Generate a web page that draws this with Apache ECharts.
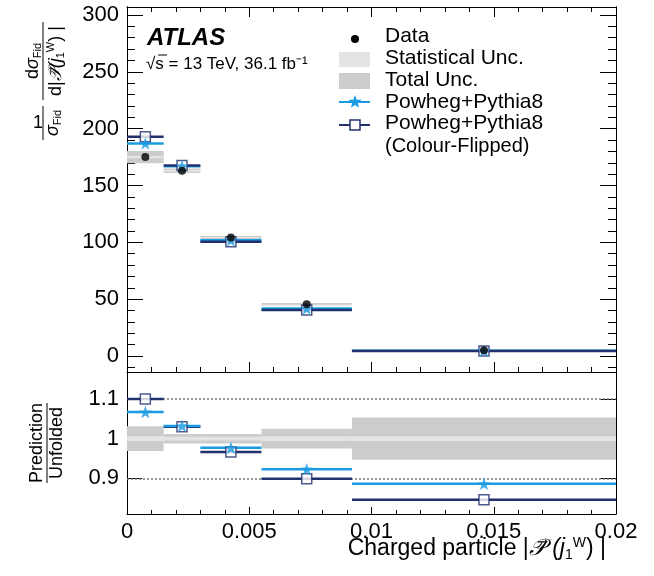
<!DOCTYPE html>
<html>
<head>
<meta charset="utf-8">
<script src="https://cdn.jsdelivr.net/npm/echarts@6/dist/echarts.min.js"></script>
<style>
  html, body { margin: 0; padding: 0; background: #fff; }
  #chart { width: 654px; height: 576px; }
</style>
</head>
<body>
<div id="chart"></div>
<script>
// bins of |P(j1W)|
const binLo = [0, 0.0015, 0.003, 0.0055, 0.0092];
const binHi = [0.0015, 0.003, 0.0055, 0.0092, 0.02];

// upper panel: normalised cross-section
const dataVals = [175, 163, 104.3, 45.6, 5.2];
const powhegVals = [187, 167, 101.8, 41.8, 4.6];
const flippedVals = [193, 167.5, 100.5, 40.6, 4.4];

// lower panel: prediction / unfolded
const powhegRatio = [1.067, 1.032, 0.977, 0.923, 0.886];
const flippedRatio = [1.100, 1.030, 0.966, 0.899, 0.846];

// relative uncertainties (half width)
const totUnc = [0.031, 0.012, 0.012, 0.025, 0.053];
const statUnc = [0.006, 0.005, 0.005, 0.006, 0.006];

// axis ticks
const xTicks = [0, 0.005, 0.01, 0.015, 0.02];
const yTicksTop = [0, 50, 100, 150, 200, 250, 300];
const yTicksRatio = [0.9, 1, 1.1];
const ratioGuides = [0.9, 1.1];

const FONT = 'Liberation Sans, Arial, Helvetica, sans-serif';
const BLUE = '#1a9be2';
const NAVY = '#22306e';
const STAR = 'path://M0,-10L2.35,-3.24L9.51,-3.09L3.8,1.24L5.88,8.09L0,4L-5.88,8.09L-3.8,1.24L-9.51,-3.09L-2.35,-3.24Z';

const mids = binLo.map((lo, i) => (lo + binHi[i]) / 2);
const yMinorTop = [];
for (let v = -10; v <= 300; v += 10) if (v % 50 !== 0) yMinorTop.push(v);

function rectItem(color) {
  return function (params, api) {
    const a = api.coord([api.value(0), api.value(3)]);
    const b = api.coord([api.value(1), api.value(2)]);
    return { type: 'rect', shape: { x: a[0], y: a[1], width: b[0] - a[0], height: b[1] - a[1] }, style: { fill: color } };
  };
}
function segItem(color) {
  return function (params, api) {
    const a = api.coord([api.value(0), api.value(2)]);
    const b = api.coord([api.value(1), api.value(2)]);
    return { type: 'line', shape: { x1: a[0], y1: a[1], x2: b[0], y2: b[1] }, style: { stroke: color, lineWidth: 2.5 } };
  };
}
function bands(center, unc) {
  return binLo.map((lo, i) => [lo, binHi[i], center[i] * (1 - unc[i]), center[i] * (1 + unc[i])]);
}
function segs(vals) {
  return binLo.map((lo, i) => [lo, binHi[i], vals[i]]);
}
function pts(vals) {
  return mids.map((m, i) => [m, vals[i]]);
}

function xAx(gridIndex, position, showLabel, major, minor) {
  return {
    type: 'value', gridIndex, position, min: 0, max: 0.02, interval: 0.005,
    axisLine: { show: true, onZero: false, lineStyle: { color: '#000', width: 1 } },
    axisTick: { show: true, inside: true, length: major, lineStyle: { color: '#000' } },
    minorTick: { show: true, splitNumber: 5, length: minor, lineStyle: { color: '#000' } },
    splitLine: { show: false },
    axisLabel: {
      show: showLabel, color: '#000', fontFamily: FONT, fontSize: 22, margin: 7,
      formatter: v => String(+v.toFixed(3))
    }
  };
}
function yAx(gridIndex, position, min, max, vals, len, showLabel) {
  return {
    type: 'value', gridIndex, position, min, max,
    axisLine: { show: true, onZero: false, lineStyle: { color: '#000', width: 1 } },
    axisTick: { show: true, inside: true, length: len, customValues: vals, lineStyle: { color: '#000' } },
    splitLine: { show: false },
    axisLabel: { show: showLabel, customValues: vals, color: '#000', fontFamily: FONT, fontSize: 22, margin: 8 }
  };
}

function starPoints(cx, cy, R, r) {
  const p = [];
  for (let k = 0; k < 10; k++) {
    const ang = -Math.PI / 2 + k * Math.PI / 5;
    const rad = k % 2 === 0 ? R : r;
    p.push([cx + rad * Math.cos(ang), cy + rad * Math.sin(ang)]);
  }
  return p;
}

function txt(x, y, text, size, extra) {
  return Object.assign({
    type: 'text', x, y,
    style: Object.assign({ text, fontFamily: FONT, fontSize: size, fill: '#000', verticalAlign: 'middle' }, extra || {})
  });
}

const subRich = {
  n: { fontFamily: FONT, fontSize: 18, fill: '#000' },
  s: { fontFamily: FONT, fontSize: 11, fill: '#000', padding: [10, 0, 0, 0] },
  i: { fontFamily: FONT, fontSize: 18, fontStyle: 'italic', fill: '#000' },
  sup: { fontFamily: FONT, fontSize: 11, fill: '#000', padding: [0, 0, 10, 0] }
};

const chart = echarts.init(document.getElementById('chart'));
chart.setOption({
  animation: false,
  grid: [
    { left: 127, right: 38, top: 7, height: 365 },
    { left: 127, right: 38, top: 372, height: 142 }
  ],
  xAxis: [
    xAx(0, 'bottom', false, 10, 5),
    xAx(0, 'top', false, 10, 5),
    xAx(1, 'bottom', true, 7, 4)
  ],
  yAxis: [
    yAx(0, 'left', -14, 307, yTicksTop, 16, true),
    yAx(0, 'left', -14, 307, yMinorTop, 8, false),
    yAx(0, 'right', -14, 307, yTicksTop, 16, false),
    yAx(0, 'right', -14, 307, yMinorTop, 8, false),
    yAx(1, 'left', 0.81, 1.168, yTicksRatio, 15, true),
    yAx(1, 'right', 0.81, 1.168, yTicksRatio, 15, false)
  ],
  series: [
    { type: 'custom', xAxisIndex: 0, yAxisIndex: 0, renderItem: rectItem('#cccccc'), data: bands(dataVals, totUnc) },
    { type: 'custom', xAxisIndex: 0, yAxisIndex: 0, renderItem: rectItem('#e4e4e4'), data: bands(dataVals, statUnc) },
    { type: 'custom', xAxisIndex: 0, yAxisIndex: 0, renderItem: segItem(BLUE), data: segs(powhegVals) },
    { type: 'custom', xAxisIndex: 0, yAxisIndex: 0, renderItem: segItem(NAVY), data: segs(flippedVals) },
    { type: 'scatter', xAxisIndex: 0, yAxisIndex: 0, symbol: 'rect', symbolSize: 10,
      itemStyle: { color: '#fff', borderColor: NAVY, borderWidth: 1.5 }, data: pts(flippedVals) },
    { type: 'scatter', xAxisIndex: 0, yAxisIndex: 0, symbol: STAR, symbolSize: [13, 12.5],
      itemStyle: { color: BLUE }, data: pts(powhegVals) },
    { type: 'scatter', xAxisIndex: 0, yAxisIndex: 0, symbol: 'circle', symbolSize: 8,
      itemStyle: { color: '#000' }, data: pts(dataVals) },

    { type: 'custom', xAxisIndex: 2, yAxisIndex: 4, renderItem: rectItem('#cccccc'),
      data: bands([1, 1, 1, 1, 1], totUnc),
      markLine: {
        z: 1, silent: true, symbol: 'none', label: { show: false },
        lineStyle: { color: '#777', type: [2, 2], width: 1.5 },
        data: ratioGuides.map(v => ({ yAxis: v }))
      } },
    { type: 'custom', xAxisIndex: 2, yAxisIndex: 4, renderItem: rectItem('#e4e4e4'), data: bands([1, 1, 1, 1, 1], statUnc) },
    { type: 'custom', xAxisIndex: 2, yAxisIndex: 4, renderItem: segItem(NAVY), data: segs(flippedRatio) },
    { type: 'custom', xAxisIndex: 2, yAxisIndex: 4, renderItem: segItem(BLUE), data: segs(powhegRatio) },
    { type: 'scatter', xAxisIndex: 2, yAxisIndex: 4, symbol: 'rect', symbolSize: 10,
      itemStyle: { color: '#fff', borderColor: NAVY, borderWidth: 1.5 }, data: pts(flippedRatio) },
    { type: 'scatter', xAxisIndex: 2, yAxisIndex: 4, symbol: STAR, symbolSize: [13, 12.5],
      itemStyle: { color: BLUE }, data: pts(powhegRatio) }
  ],
  graphic: [
    // ATLAS label
    txt(147, 38, 'ATLAS', 24, { fontWeight: 'bold', fontStyle: 'italic' }),
    txt(146, 64, '√s = 13 TeV, 36.1 fb⁻¹', 17),
    { type: 'line', shape: { x1: 158, y1: 55, x2: 167, y2: 55 }, style: { stroke: '#000', lineWidth: 1 } },

    // legend
    { type: 'circle', shape: { cx: 355, cy: 39, r: 4 }, style: { fill: '#000' } },
    txt(385, 36, 'Data', 21),
    { type: 'rect', shape: { x: 339, y: 52, width: 31, height: 15 }, style: { fill: '#e4e4e4' } },
    txt(385, 58, 'Statistical Unc.', 21),
    { type: 'rect', shape: { x: 339, y: 73, width: 31, height: 16 }, style: { fill: '#cccccc' } },
    txt(385, 80, 'Total Unc.', 21),
    { type: 'line', shape: { x1: 339, y1: 102, x2: 370, y2: 102 }, style: { stroke: BLUE, lineWidth: 2 } },
    { type: 'polygon', shape: { points: starPoints(355, 102, 7, 2.9) }, style: { fill: BLUE } },
    txt(385, 102, 'Powheg+Pythia8', 21),
    { type: 'line', shape: { x1: 339, y1: 125, x2: 370, y2: 125 }, style: { stroke: NAVY, lineWidth: 2 } },
    { type: 'rect', shape: { x: 350, y: 120, width: 10, height: 10 }, style: { fill: '#fff', stroke: NAVY, lineWidth: 1.5 } },
    txt(385, 123, 'Powheg+Pythia8', 21),
    txt(385, 146, '(Colour-Flipped)', 20),

    // y title, upper panel
    txt(38, 123, '1', 18, { align: 'center' }),
    { type: 'line', shape: { x1: 43, y1: 106, x2: 43, y2: 140 }, style: { stroke: '#000', lineWidth: 1 } },
    { type: 'text', x: 53, y: 123, rotation: Math.PI / 2,
      style: { text: '{i|σ}{s|Fid}', rich: subRich, align: 'center', verticalAlign: 'middle' } },
    { type: 'text', x: 33, y: 61, rotation: Math.PI / 2,
      style: { text: '{n|d}{i|σ}{s|Fid}', rich: subRich, align: 'center', verticalAlign: 'middle' } },
    { type: 'line', shape: { x1: 43, y1: 22, x2: 43, y2: 100 }, style: { stroke: '#000', lineWidth: 1 } },
    { type: 'text', x: 56, y: 61, rotation: Math.PI / 2,
      style: { text: '{n|d|}{i|𝒫⃗(j}{s|1}{sup|W}{n|) |}', rich: subRich, align: 'center', verticalAlign: 'middle' } },

    // y title, ratio panel
    { type: 'text', x: 37, y: 443, rotation: Math.PI / 2,
      style: { text: 'Prediction', fontFamily: FONT, fontSize: 18, fill: '#000', align: 'center', verticalAlign: 'middle' } },
    { type: 'line', shape: { x1: 47, y1: 403, x2: 47, y2: 483 }, style: { stroke: '#000', lineWidth: 1 } },
    { type: 'text', x: 57, y: 443, rotation: Math.PI / 2,
      style: { text: 'Unfolded', fontFamily: FONT, fontSize: 18, fill: '#000', align: 'center', verticalAlign: 'middle' } },

    // x title
    { type: 'text', x: 606, y: 549,
      style: {
        text: '{n|Charged particle |}{i|𝒫⃗ (j}{s|1}{sup|W}{n|) |}',
        align: 'right', verticalAlign: 'middle',
        rich: {
          n: { fontFamily: FONT, fontSize: 23, fill: '#000' },
          i: { fontFamily: FONT, fontSize: 23, fontStyle: 'italic', fill: '#000' },
          s: { fontFamily: FONT, fontSize: 14, fill: '#000', padding: [12, 0, 0, 0] },
          sup: { fontFamily: FONT, fontSize: 14, fill: '#000', padding: [0, 0, 12, 0] }
        }
      } }
  ]
});
</script>
</body>
</html>
